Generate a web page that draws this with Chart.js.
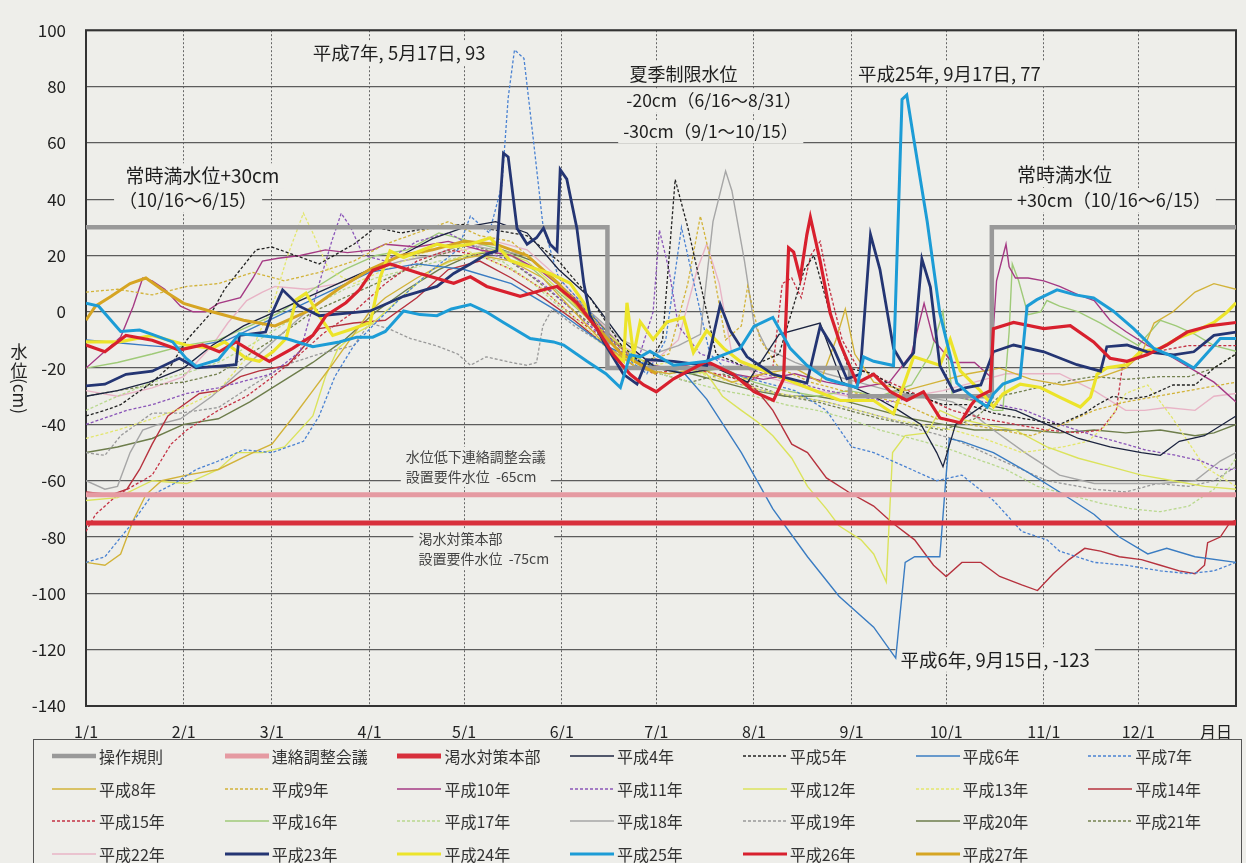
<!DOCTYPE html>
<html>
<head>
<meta charset="utf-8">
<script src="https://cdn.jsdelivr.net/npm/chart.js@4.4.0/dist/chart.umd.min.js"></script>
<style>
  html, body { margin: 0; padding: 0; background: #eeeeea; }
  body { width: 1246px; height: 863px; overflow: hidden; position: relative;
         font-family: 'Noto Sans CJK JP', 'Noto Sans', sans-serif; }
  #wrap { position: absolute; left: 0; top: 0; width: 1246px; height: 740px; }
  #legend { position: absolute; left: 33px; top: 739px; width: 1209px; height: 140px;
            border: 1.5px solid #555; box-sizing: border-box; }
  .item { position: absolute; height: 22px; display: flex; align-items: center;
          font-size: 16px; color: #333; white-space: nowrap; }
  .item svg { margin-right: 3px; }
</style>
</head>
<body>
<div id="wrap"><canvas id="chart"></canvas></div>
<div id="legend"></div>
<script>
// ---- axis ticks ----
const monthDays = [0, 31, 59, 90, 120, 151, 181, 212, 243, 273, 304, 334, 365];
const monthLabels = ['1/1', '2/1', '3/1', '4/1', '5/1', '6/1', '7/1', '8/1', '9/1', '10/1', '11/1', '12/1', '月日'];

// ---- reference levels (day of year, cm) ----
const ruleLevels = [[0, 30], [165.5, 30], [165.5, -20], [242.5, -20], [242.5, -30], [287.5, -30], [287.5, 30], [365, 30]];
const liaisonLevel = [[0, -65], [365, -65]];
const droughtLevel = [[0, -75], [365, -75]];

// ---- yearly water levels [day of year, cm] ----
const h4 = [[0,-30],[10,-28],[20,-25],[31,-20],[40,-12],[50,-5],[60,0],[70,5],[80,10],[90,15],[100,20],[110,26],[120,30],[130,32],[140,28],[150,15],[160,5],[170,-10],[181,-20],[190,-22],[200,-20],[210,-25],[220,-8],[233,-4],[240,-25],[250,-30],[258,-35],[265,-40],[270,-50],[272,-55],[276,-40],[285,-33],[295,-35],[305,-40],[315,-45],[325,-48],[335,-50],[341,-51],[347,-46],[355,-44],[365,-37]];
const h5 = [[0,-37],[6,-35],[11,-33],[16,-29],[21,-25],[27,-19],[32,-10],[36,-5],[40,0],[44,8],[49,15],[54,22],[59,23],[64,21],[74,17],[85,24],[92,30],[100,28],[110,30],[120,31],[130,29],[140,27],[150,18],[160,5],[170,-12],[178,-20],[183,-10],[187,47],[191,30],[196,5],[200,-15],[210,-20],[220,-15],[228,15],[231,20],[236,0],[242,-20],[250,-22],[258,-28],[265,-30],[272,-33],[280,-33],[288,-36],[298,-38],[309,-40],[317,-36],[321,-33],[326,-30],[331,-31],[337,-30],[345,-26],[352,-26],[358,-20],[365,-15]];
const h6 = [[0,-10],[10,-11],[20,-12],[31,-13],[45,-10],[60,-2],[75,6],[90,14],[105,17],[120,15],[135,10],[150,0],[165,-12],[176,-18],[183,-20],[190,-22],[197,-31],[208,-50],[218,-70],[229,-87],[239,-101],[250,-112],[257,-123],[260,-89],[263,-87],[271,-87],[273,-58],[274,-45],[278,-46],[288,-50],[299,-57],[309,-64],[320,-72],[328,-80],[337,-86],[343,-84],[352,-87],[365,-89]];
const h7 = [[0,-89],[6,-87],[14,-76],[21,-65],[28,-61],[35,-56],[42,-53],[50,-49],[59,-50],[69,-46],[74,-37],[79,-23],[85,-12],[91,-5],[100,5],[110,15],[118,22],[122,34],[128,28],[132,45],[134,76],[136,93],[139,90],[142,61],[145,31],[150,12],[160,0],[170,-15],[178,-22],[184,-10],[189,30],[193,10],[198,-15],[205,-22],[215,-25],[225,-28],[235,-35],[243,-48],[250,-50],[260,-55],[270,-60],[278,-58],[288,-67],[297,-78],[305,-81],[309,-85],[320,-89],[330,-90],[341,-92],[350,-93],[358,-92],[365,-89]];
const h8 = [[0,-89],[6,-90],[11,-86],[15,-74],[19,-65],[24,-60],[32,-58],[42,-56],[53,-50],[59,-47],[66,-37],[72,-28],[78,-19],[85,-8],[90,0],[95,5],[105,12],[115,18],[125,20],[135,18],[145,12],[155,0],[165,-12],[175,-20],[185,-22],[195,-20],[205,-25],[215,-22],[225,-20],[233,-25],[238,-10],[241,1],[244,-15],[250,-25],[260,-28],[270,-25],[280,-22],[290,-20],[300,-24],[310,-26],[320,-24],[330,-20],[335,-15],[339,-4],[345,0],[352,7],[358,10],[365,8]];
const h9 = [[0,7],[10,8],[21,6],[32,9],[42,10],[53,14],[63,11],[74,14],[85,18],[95,24],[105,28],[115,32],[125,27],[135,25],[145,15],[155,5],[165,-8],[175,-18],[185,-15],[191,10],[195,34],[199,15],[203,-10],[208,-5],[210,9],[214,-10],[220,-20],[230,-25],[240,-28],[250,-30],[260,-33],[270,-38],[280,-40],[290,-42],[300,-44],[310,-40],[320,-35],[330,-32],[340,-30],[350,-28],[365,-25]];
const h10 = [[0,-20],[6,-14],[11,-9],[15,2],[18,12],[21,11],[25,8],[30,2],[34,0],[38,0],[42,3],[49,5],[53,12],[56,18],[61,19],[68,20],[76,22],[83,21],[91,22],[95,24],[105,23],[115,25],[125,22],[135,20],[145,14],[155,5],[165,-8],[175,-18],[185,-20],[195,-18],[205,-22],[215,-24],[225,-22],[235,-25],[245,-27],[255,-25],[262,-15],[266,3],[269,-10],[275,-18],[282,-18],[287,-23],[289,11],[292,24],[293,16],[295,12],[299,12],[304,11],[309,9],[315,6],[320,4],[325,-3],[330,-7],[337,-12],[343,-15],[352,-21],[358,-25],[365,-32]];
const h11 = [[0,-40],[13,-35],[21,-33],[32,-29],[42,-27],[49,-25],[59,-22],[68,-14],[74,10],[78,25],[81,35],[84,30],[88,20],[95,18],[105,25],[115,28],[125,22],[135,18],[145,10],[155,0],[165,-10],[175,-18],[180,0],[182,29],[185,15],[188,-5],[195,-15],[205,-18],[215,-22],[225,-25],[235,-28],[245,-30],[255,-32],[265,-30],[275,-30],[285,-32],[298,-35],[309,-40],[320,-44],[330,-47],[336,-49],[346,-51],[354,-53],[360,-56],[365,-56]];
const h12 = [[0,-67],[10,-66],[21,-60],[32,-61],[42,-56],[48,-50],[56,-50],[63,-48],[72,-37],[76,-23],[80,-13],[85,-8],[90,-5],[100,5],[110,15],[120,20],[130,22],[140,18],[150,8],[160,-3],[170,-12],[180,-20],[190,-20],[197,-22],[202,-30],[208,-35],[213,-39],[218,-44],[224,-52],[229,-62],[235,-70],[239,-76],[246,-81],[250,-86],[254,-96],[256,-50],[260,-44],[267,-43],[271,-35],[277,-38],[285,-40],[295,-42],[305,-48],[315,-52],[325,-55],[335,-58],[345,-60],[355,-62],[365,-63]];
const h13 = [[0,-45],[10,-42],[21,-38],[31,-34],[42,-28],[52,-15],[60,5],[64,20],[69,35],[72,28],[77,15],[85,10],[95,15],[105,20],[115,24],[125,20],[135,15],[145,8],[155,-2],[165,-12],[175,-20],[185,-18],[195,-22],[205,-25],[215,-28],[225,-30],[235,-32],[245,-35],[255,-38],[265,-40],[275,-42],[285,-45],[297,-50],[310,-48],[318,-46],[324,-40],[330,-29],[337,-26],[345,-38],[355,-55],[365,-62]];
const h14 = [[0,-64],[8,-65],[13,-63],[17,-56],[21,-47],[26,-37],[31,-33],[36,-29],[42,-28],[49,-23],[55,-21],[64,-19],[74,-6],[85,-4],[95,-3],[105,5],[115,15],[125,18],[135,12],[145,5],[155,-3],[165,-12],[175,-20],[185,-20],[195,-18],[202,-20],[208,-24],[213,-28],[218,-35],[224,-47],[229,-50],[235,-59],[242,-64],[250,-69],[256,-75],[263,-81],[269,-90],[273,-94],[278,-89],[284,-89],[290,-94],[297,-97],[302,-99],[307,-93],[312,-88],[317,-84],[322,-85],[328,-87],[335,-88],[341,-90],[347,-92],[352,-93],[355,-90],[356,-82],[360,-80],[363,-75],[365,-74]];
const h15 = [[0,-78],[3,-72],[10,-65],[21,-58],[27,-47],[32,-42],[42,-35],[51,-30],[57,-25],[65,-18],[75,-8],[85,0],[95,10],[105,18],[115,22],[125,20],[135,15],[145,8],[155,-2],[165,-10],[175,-18],[180,-22],[190,-20],[200,-22],[210,-25],[218,-20],[221,10],[224,12],[227,5],[230,20],[233,25],[236,8],[240,-10],[245,-20],[255,-25],[265,-30],[275,-35],[285,-38],[295,-40],[305,-42],[315,-43],[322,-42],[327,-35],[329,-19],[333,-16],[340,-14],[350,-12],[365,-12]];
const h16 = [[0,-20],[10,-18],[21,-15],[31,-12],[42,-10],[52,-5],[62,0],[72,8],[82,15],[92,20],[102,22],[112,28],[122,25],[132,22],[142,15],[152,5],[162,-5],[172,-15],[182,-20],[192,-22],[202,-20],[212,-25],[222,-28],[232,-30],[242,-28],[252,-30],[262,-26],[268,-15],[272,0],[275,-30],[283,-32],[288,-35],[291,-35],[293,-7],[294,17],[296,11],[299,-1],[303,0],[305,4],[309,2],[315,0],[322,-4],[328,-8],[334,-12],[341,-3],[346,-5],[352,-8],[358,-12],[365,-14]];
const h17 = [[0,-35],[10,-30],[21,-25],[31,-22],[42,-18],[52,-12],[62,-5],[72,2],[82,8],[92,12],[102,15],[112,18],[122,20],[132,18],[142,10],[152,0],[162,-10],[172,-18],[182,-22],[192,-25],[202,-28],[212,-30],[222,-33],[232,-35],[242,-38],[252,-42],[262,-45],[272,-48],[282,-52],[292,-56],[302,-62],[312,-65],[322,-68],[332,-70],[341,-71],[350,-69],[358,-63],[365,-52]];
const h18 = [[0,-60],[6,-63],[10,-62],[14,-50],[18,-42],[23,-40],[30,-38],[40,-30],[50,-20],[60,-10],[70,0],[80,8],[90,15],[100,18],[110,20],[120,24],[130,22],[140,20],[150,10],[160,0],[170,-10],[180,-15],[188,-12],[195,-8],[199,32],[203,50],[205,43],[209,18],[212,-4],[216,-13],[225,-18],[235,-22],[245,-25],[255,-28],[265,-30],[275,-32],[280,-35],[288,-42],[298,-50],[309,-58],[320,-61],[330,-61],[341,-61],[352,-60],[360,-53],[365,-50]];
const h19 = [[0,-50],[6,-51],[11,-44],[21,-36],[30,-36],[42,-34],[53,-26],[63,-19],[74,-15],[85,-12],[90,-4],[96,-6],[103,-9.5],[111,-12],[118,-15],[122,-19],[127,-16],[135,-18],[140,-19],[143,-18],[145,-5],[148,1],[155,-5],[165,-12],[175,-20],[185,-22],[195,-20],[205,-25],[215,-28],[225,-30],[235,-32],[245,-35],[255,-38],[265,-42],[275,-45],[285,-50],[295,-55],[305,-60],[315,-62],[320,-63],[330,-64],[340,-61],[350,-62],[358,-60],[365,-55]];
const h20 = [[0,-50],[10,-48],[21,-45],[31,-40],[42,-38],[52,-32],[62,-25],[72,-18],[82,-10],[92,0],[102,8],[112,15],[122,20],[132,22],[142,18],[152,8],[162,-3],[172,-15],[182,-20],[192,-22],[202,-25],[212,-28],[222,-30],[232,-30],[242,-32],[252,-35],[262,-38],[272,-40],[282,-42],[292,-42],[299,-42],[309,-43],[320,-42],[330,-43],[341,-42],[352,-44],[358,-43],[365,-40]];
const h21 = [[0,-30],[10,-28],[21,-26],[31,-25],[42,-22],[52,-15],[62,-8],[72,0],[82,5],[92,10],[102,15],[112,20],[122,24],[132,20],[142,12],[152,3],[162,-6],[172,-15],[182,-22],[192,-25],[202,-22],[212,-26],[222,-30],[232,-32],[242,-35],[252,-38],[262,-40],[272,-42],[282,-38],[290,-30],[298,-28],[309,-25],[320,-23],[330,-24],[341,-23],[350,-23],[358,-20],[365,-15]];
const h22 = [[0,-28],[10,-30],[21,-27],[31,-23],[40,-12],[45,-4],[51,4],[56,7],[60,9],[70,8],[80,10],[90,14],[100,18],[110,20],[120,22],[130,25],[140,22],[150,12],[160,0],[170,-12],[180,-18],[188,-10],[194,15],[197,24],[201,10],[205,-15],[212,-22],[222,-25],[232,-28],[242,-30],[252,-30],[262,-30],[272,-28],[282,-25],[292,-22],[309,-22],[320,-28],[330,-35],[336,-35],[343,-34],[352,-35],[358,-30],[365,-29]];
const h23 = [[0,-26.3],[6,-25.7],[12.7,-22.2],[21,-21.1],[29.6,-16.5],[35,-19.9],[42.3,-19.3],[47.6,-18.8],[48.7,-8.4],[57,-7.2],[59.3,0.1],[62.4,7.8],[67.7,2],[74,-1.4],[84.7,-0.3],[90.2,0.3],[100.8,5.5],[111.4,9],[116.7,13.6],[122,17],[127.2,20.5],[130.4,21.6],[132.5,56.3],[134,55],[136.8,29.7],[140,24],[143,26.3],[145.2,29.7],[147.3,24],[149.5,21.6],[150.5,50.5],[152.6,47.1],[155.8,29.7],[158,10.1],[160,-1.4],[164.3,-10.7],[170.6,-22.2],[174.9,-25.7],[178,-17],[186.5,-17.6],[197,-19.1],[201.3,2.6],[204.5,-6.7],[209.8,-16],[218,-22.2],[228.8,-25.3],[233,-5.2],[237.3,-13],[241.5,-23.8],[245.7,-22.2],[249,27.4],[252,15],[256.3,-13],[259.5,-19.1],[262.7,-14.5],[265.3,18.8],[268,8.8],[271,-19.1],[275.4,-28.4],[279,-27],[284,-26],[288,-14.2],[294.4,-11.8],[304,-14.2],[314.5,-18.8],[322,-21.1],[324,-12.4],[330.4,-11.8],[336.8,-14.2],[345.2,-15.3],[351.6,-14.2],[358,-8.4],[365,-7.2]];
const h24 = [[0,-10.7],[10.6,-10.7],[21,-8.4],[31.7,-11.8],[40,-13],[44,-10.7],[50.8,-16.5],[55,-17.6],[59.3,-14.2],[63.5,-9.5],[66.7,4.3],[69.8,6.6],[74,-1.4],[78.3,-8.4],[84.7,-6],[90.2,-3.8],[93.4,12.4],[96.5,21.6],[100.8,19.3],[111.4,24],[115.6,23],[122,24],[128.3,26.3],[134.6,18.2],[141,15.9],[147.3,13.6],[153.7,10.1],[158,3.2],[162.2,-6],[166.4,-14.2],[170.6,-17.6],[171.7,3.2],[173.8,-15.3],[175.9,-3.6],[180,-9.8],[184.4,-3.6],[189.7,-2],[192.8,-14.5],[197,-6.7],[202.4,-13],[207.6,-17.6],[218.2,-22.2],[228.8,-26.9],[239.4,-31.5],[250,-31.5],[256.3,-36.2],[262.7,-16],[271,-19],[274.3,-9.8],[277.5,-21],[283.8,-28],[288,-33.8],[291,-29.2],[296.5,-25.7],[302.9,-26.9],[309,-30.3],[315.6,-33.8],[318.8,-30.3],[320.9,-22.2],[324,-19.9],[330.4,-18.8],[334.6,-14.2],[341,-13],[346.3,-9.5],[351.6,-7.2],[358,-3.8],[362,-0.3],[365,3.2]];
const h25 = [[0,3],[4,2],[11,-7],[17,-6.5],[21,-8],[27.5,-10.7],[31.7,-16.5],[35,-19.4],[42,-17],[48.7,-7.8],[55,-8.4],[63.5,-9.5],[72,-12.4],[80.4,-10.7],[86,-9],[91,-9],[95,-7],[100.8,0.3],[106,-1],[111.4,-1.4],[116,1],[122,2.6],[127,0],[132.5,-3.8],[141,-9.5],[148.4,-10.7],[151.6,-11.8],[159,-17.6],[165,-22],[169.6,-26.9],[172.7,-15.3],[175.9,-16],[179,-14],[186.5,-19],[197,-17.6],[207.6,-13],[212,-5.2],[218,-2],[223.5,-13],[228.8,-19],[235,-23.8],[239.4,-25.3],[244.7,-26.9],[246.8,-16],[250,-17.6],[256.3,-19.1],[259,75.4],[260.5,77],[262.7,61.5],[267,32],[271,-0.5],[276.4,-25.3],[280,-29],[286,-33.8],[288,-29.2],[291,-25.7],[296.5,-23.4],[298.7,2],[301.8,4.3],[308.2,7.8],[314,6],[319.8,4.9],[326,0.3],[332.5,-6],[338.9,-13],[346.3,-16.5],[351.6,-20],[355.8,-14.7],[360,-9.5],[365,-9.5]];
const h26 = [[0,-11.8],[6,-14.2],[12.7,-8.4],[21,-10.1],[29.6,-13.6],[37,-11.8],[42.3,-14.2],[47.6,-10.7],[52.9,-14.2],[58.2,-17.6],[65.6,-13],[72,-8.4],[76.2,-1.4],[82.5,3.2],[86.8,7.8],[91,14.7],[96.5,17],[106,13.6],[116.7,10.1],[122,12.4],[127.2,9],[137.8,5.5],[145.2,7.8],[149.5,9],[155.8,3.2],[162.2,-6],[167.4,-15.3],[172.7,-22.2],[177,-26],[181,-28.4],[186.5,-23.8],[197,-17.6],[205.5,-22.2],[212,-28.4],[218.2,-31.5],[221.4,-23.8],[223,22.7],[224.6,21.2],[226.7,11.9],[228.8,27.4],[229.9,33.6],[233,18.1],[236.2,-0.5],[239.4,-11.4],[244.7,-25.3],[250,-22.2],[255.3,-28.4],[260.5,-31.5],[265.8,-28.4],[271,-37.7],[277.5,-39.4],[281,-33],[283,-30.3],[287,-28],[288,-6],[294.4,-3.8],[304,-6],[312.4,-4.9],[319.8,-10.7],[325,-16.5],[330.4,-17.6],[336.8,-15.3],[343,-11.8],[349.5,-7.2],[357,-4.9],[365,-3.8]];
const h27 = [[0,-3],[3,2],[8,5.5],[14,10],[19,12],[24,8],[31,3],[40,0],[50,-3],[60,-5],[70,0],[80,8],[90,15],[100,20],[110,22],[120,25],[130,24],[140,20],[150,10],[160,-3],[170,-15],[181,-22]];

const BG = '#eeeeea';
const FONT = "'Noto Sans CJK JP', 'Noto Sans', sans-serif";
Chart.defaults.font.family = FONT;

function line(label, pts, color, width, dash, order) {
  return {
    label,
    data: pts.map(p => ({ x: p[0], y: p[1] })),
    borderColor: color,
    borderWidth: width,
    borderDash: dash || [],
    pointRadius: 0,
    fill: false,
    tension: 0,
    order
  };
}

const DOT = [3, 2];
const datasets = [
  line('操作規則', ruleLevels, '#999999', 4.5, null, 10),
  line('連絡調整会議', liaisonLevel, '#e59aa2', 5, null, 11),
  line('渇水対策本部', droughtLevel, '#d8303c', 5, null, 11),
  line('平成4年', h4, '#1c2440', 1.3, null, 20),
  line('平成5年', h5, '#222222', 1.3, DOT, 20),
  line('平成6年', h6, '#3a7cc2', 1.4, null, 20),
  line('平成7年', h7, '#4a82d2', 1.3, DOT, 20),
  line('平成8年', h8, '#d2b33a', 1.4, null, 20),
  line('平成9年', h9, '#d2b33a', 1.3, DOT, 20),
  line('平成10年', h10, '#a53a84', 1.4, null, 20),
  line('平成11年', h11, '#8a55b8', 1.3, DOT, 20),
  line('平成12年', h12, '#dbe35c', 1.4, null, 20),
  line('平成13年', h13, '#e3e66e', 1.3, DOT, 20),
  line('平成14年', h14, '#b6323e', 1.4, null, 20),
  line('平成15年', h15, '#c43244', 1.3, DOT, 20),
  line('平成16年', h16, '#9fca78', 1.4, null, 20),
  line('平成17年', h17, '#b9d88e', 1.3, DOT, 20),
  line('平成18年', h18, '#a6a6a6', 1.4, null, 20),
  line('平成19年', h19, '#999999', 1.3, DOT, 20),
  line('平成20年', h20, '#6d7d4b', 1.4, null, 20),
  line('平成21年', h21, '#74814f', 1.3, DOT, 20),
  line('平成22年', h22, '#e8b4c6', 1.4, null, 20),
  line('平成23年', h23, '#243573', 2.8, null, 3),
  line('平成24年', h24, '#ece42a', 3.2, null, 4),
  line('平成25年', h25, '#1c9cd6', 3, null, 1),
  line('平成26年', h26, '#d8202e', 3.2, null, 2),
  line('平成27年', h27, '#d6a523', 3, null, 5)
];

// annotation texts, anchored in data coordinates (day, cm)
const notes = [
  { lines: ['平成7年, 5月17日, 93'], x: 72, y: 92, size: 18.5 },
  { lines: ['夏季制限水位'], x: 172.5, y: 84.5, size: 18 },
  { lines: ['-20cm（6/16～8/31）'], x: 171.5, y: 75, size: 17.5 },
  { lines: ['-30cm（9/1～10/15）'], x: 170.5, y: 64, size: 17.5 },
  { lines: ['平成25年, 9月17日, 77'], x: 245, y: 84.5, size: 18.5 },
  { lines: ['常時満水位+30cm'], x: 12.5, y: 48.3, size: 19 },
  { lines: ['（10/16～6/15）'], x: 10.5, y: 39.7, size: 18 },
  { lines: ['常時満水位'], x: 295.5, y: 48.7, size: 19 },
  { lines: ['+30cm（10/16～6/15）'], x: 295.5, y: 39.7, size: 18 },
  { lines: ['平成6年, 9月15日, -123'], x: 258.5, y: -123.5, size: 18.5 },
  { lines: ['水位低下連絡調整会議', '設置要件水位  -65cm'], x: 101.5, y: -51.5, size: 14, color: '#444', gap: 20 },
  { lines: ['渇水対策本部', '設置要件水位  -75cm'], x: 105.5, y: -80.5, size: 14, color: '#444', gap: 20 }
];

const decor = {
  id: 'decor',
  beforeDatasetsDraw(chart) {
    const { ctx, chartArea: a, scales: { x, y } } = chart;
    ctx.save();
    notes.forEach(n => {
      ctx.font = n.size + 'px ' + FONT;
      ctx.textBaseline = 'middle';
      ctx.textAlign = 'left';
      const px = x.getPixelForValue(n.x);
      const py = y.getPixelForValue(n.y);
      const gap = n.gap || 0;
      const w = Math.max(...n.lines.map(t => ctx.measureText(t).width));
      const h = n.size + 4 + gap * (n.lines.length - 1);
      ctx.fillStyle = BG;
      ctx.fillRect(px - 5, py - n.size / 2 - 3, w + 10, h + 2);
      ctx.fillStyle = n.color || '#1e1e1e';
      n.lines.forEach((t, i) => ctx.fillText(t, px, py + i * gap));
    });
    ctx.strokeStyle = '#333';
    ctx.lineWidth = 2;
    ctx.strokeRect(a.left, a.top, a.right - a.left, a.bottom - a.top);
    ctx.restore();
  },
  afterDraw(chart) {
    const { ctx, chartArea: a } = chart;
    ctx.save();
    ctx.fillStyle = '#222';
    ctx.font = '16px ' + FONT;
    ctx.textAlign = 'center';
    ctx.textBaseline = 'middle';
    // last x label sits inside the right edge
    ctx.fillText(monthLabels[12], a.right - 20, a.bottom + 26);
    // y axis title: upright kanji, rotated unit
    ctx.font = '17px ' + FONT;
    ctx.fillText('水', 19, 352);
    ctx.fillText('位', 19, 371);
    ctx.translate(19, 396);
    ctx.rotate(Math.PI / 2);
    ctx.fillText('(cm)', 0, 0);
    ctx.restore();
  }
};

new Chart(document.getElementById('chart'), {
  type: 'line',
  data: { datasets },
  options: {
    responsive: true,
    maintainAspectRatio: false,
    animation: false,
    layout: { padding: { top: 14, right: 10, left: 0, bottom: 0 } },
    plugins: { legend: { display: false }, tooltip: { enabled: false } },
    scales: {
      x: {
        type: 'linear',
        min: 0,
        max: 365,
        afterBuildTicks: s => { s.ticks = monthDays.map(v => ({ value: v })); },
        // fixed band height; label padding must not push the plot edges in
        afterFit: s => { s.height = 34; s.paddingLeft = 0; s.paddingRight = 0; },
        ticks: {
          autoSkip: false,
          maxRotation: 0,
          padding: 16,
          color: '#222',
          font: { size: 16 },
          callback: v => (v === 365 ? '' : monthLabels[monthDays.indexOf(v)])
        },
        grid: { color: '#666', lineWidth: 1, drawTicks: false },
        border: { display: false, dash: [2, 2] }
      },
      y: {
        min: -140,
        max: 100,
        afterFit: s => { s.width = 86; },
        ticks: { stepSize: 20, padding: 20, color: '#222', font: { size: 17 } },
        grid: { color: '#5c5c5c', lineWidth: 1.2, drawTicks: false },
        border: { display: false }
      }
    }
  },
  plugins: [decor]
});

// html legend in the reference's 7-column grid
const legendEl = document.getElementById('legend');
datasets.forEach((ds, i) => {
  const col = i % 7, row = Math.floor(i / 7);
  const item = document.createElement('div');
  item.className = 'item';
  item.style.left = (18 + col * 172.7) + 'px';
  item.style.top = (5 + row * 32.5) + 'px';
  const dash = ds.borderDash.length ? 'stroke-dasharray="3 2"' : '';
  const sw = Math.max(ds.borderWidth, 1.6);
  item.innerHTML = `<svg width="44" height="10"><line x1="0" y1="5" x2="44" y2="5" stroke="${ds.borderColor}" stroke-width="${sw}" ${dash}/></svg>${ds.label}`;
  legendEl.appendChild(item);
});
</script>
</body>
</html>
